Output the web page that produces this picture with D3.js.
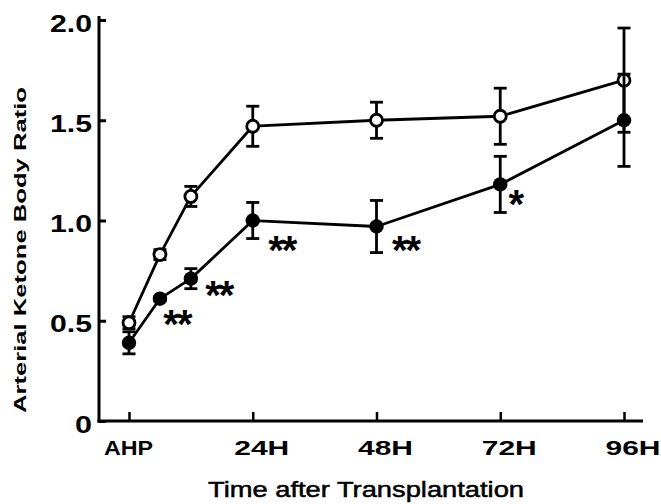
<!DOCTYPE html>
<html>
<head>
<meta charset="utf-8">
<script src="https://cdn.jsdelivr.net/npm/d3@7"></script>
<style>
  html, body { margin: 0; padding: 0; background: #fff; }
  svg { display: block; }
</style>
</head>
<body>
<svg id="chart" width="661" height="504"></svg>
<script>
// ---- data ----
const hours       = [0, 6, 12, 24, 48, 72, 96];
const openMean    = [0.49, 0.83, 1.12, 1.47, 1.50, 1.52, 1.70];
const openErr     = [0.03, 0.025, 0.05, 0.10, 0.09, 0.14, 0.26];
const filledMean  = [0.39, 0.61, 0.71, 1.00, 0.97, 1.18, 1.50];
const filledErr   = [0.055, 0.01, 0.05, 0.09, 0.13, 0.14, 0.23];
const significance = ["", "**", "**", "**", "**", "*", ""];
const xTickHours  = [0, 24, 48, 72, 96];
const xTickLabels = ["AHP", "24H", "48H", "72H", "96H"];
const yTickValues = [0, 0.5, 1.0, 1.5, 2.0];
const yTickLabels = ["0", "0.5", "1.0", "1.5", "2.0"];
const xTitle = "Time after Transplantation";
const yTitle = "Arterial Ketone Body Ratio";

// ---- drawing ----
const svg = d3.select("#chart");
const x = d3.scaleLinear().domain([0, 96]).range([129, 624]);
const y = d3.scaleLinear().domain([0, 2]).range([421, 20]);
const axisLeftX = 99;
const font = "'Liberation Sans', Arial, Helvetica, sans-serif";

// Y axis
const yAxis = d3.axisRight(y)
  .tickValues(yTickValues)
  .tickSize(7)
  .tickSizeOuter(0)
  .tickFormat((d, i) => yTickLabels[i]);
const gy = svg.append("g").attr("transform", `translate(${axisLeftX},0)`).call(yAxis);
gy.select(".domain").attr("d", `M0,${y(0) + 1.5}V${y(2) - 4}`)
  .attr("stroke", "#000").attr("stroke-width", 3).attr("fill", "none");
gy.selectAll(".tick line").attr("stroke", "#000").attr("stroke-width", 3);
gy.selectAll(".tick text")
  .attr("x", -7).attr("dy", null).attr("y", 11)
  .attr("text-anchor", "end")
  .attr("font-family", font).attr("font-weight", "bold").attr("font-size", 23)
  .attr("fill", "#000")
  .each(function(d, i) {
    const lbl = yTickLabels[i];
    if (lbl.length > 1) d3.select(this).attr("textLength", 42).attr("lengthAdjust", "spacingAndGlyphs");
    else d3.select(this).attr("textLength", 17).attr("lengthAdjust", "spacingAndGlyphs");
  });

// X axis
const xAxis = d3.axisTop(x)
  .tickValues(xTickHours)
  .tickSize(9)
  .tickSizeOuter(0)
  .tickFormat((d, i) => xTickLabels[i]);
const gx = svg.append("g").attr("transform", `translate(0,${y(0)})`).call(xAxis);
gx.select(".domain").attr("d", `M${axisLeftX - 1.5},0H643`)
  .attr("stroke", "#000").attr("stroke-width", 3).attr("fill", "none");
gx.selectAll(".tick line").attr("stroke", "#000").attr("stroke-width", 2.5);
gx.selectAll(".tick text")
  .attr("y", 34).attr("dy", null)
  .attr("font-family", font).attr("font-weight", "bold").attr("font-size", 21)
  .attr("fill", "#000")
  .each(function(d, i) {
    const lbl = xTickLabels[i];
    const t = d3.select(this);
    if (lbl === "AHP") {
      t.attr("text-anchor", "middle").attr("x", -1).attr("textLength", 49).attr("lengthAdjust", "spacingAndGlyphs");
    } else {
      t.attr("text-anchor", "start").attr("x", -19).attr("textLength", 55).attr("lengthAdjust", "spacingAndGlyphs");
    }
  });

// Axis titles
svg.append("text")
  .attr("x", 366).attr("y", 497)
  .attr("text-anchor", "middle")
  .attr("font-family", font).attr("font-size", 22)
  .attr("stroke", "#000").attr("stroke-width", 0.5)
  .attr("textLength", 316).attr("lengthAdjust", "spacingAndGlyphs")
  .text(xTitle);

svg.append("text")
  .attr("transform", "translate(26,250) rotate(-90)")
  .attr("text-anchor", "middle")
  .attr("font-family", font).attr("font-weight", "bold").attr("font-size", 17)
  .attr("textLength", 326).attr("lengthAdjust", "spacingAndGlyphs")
  .text(yTitle);

// Series
const openData = hours.map((h, i) => ({ h, m: openMean[i], e: openErr[i] }));
const filledData = hours.map((h, i) => ({ h, m: filledMean[i], e: filledErr[i], s: significance[i] }));

const line = d3.line().x(d => x(d.h)).y(d => y(d.m));
[openData, filledData].forEach(data => {
  svg.append("path").datum(data).attr("d", line)
    .attr("fill", "none").attr("stroke", "#000").attr("stroke-width", 2.8)
    .attr("stroke-linejoin", "round");
});

function errorBars(data) {
  const g = svg.append("g").attr("stroke", "#000").attr("stroke-width", 2.8).attr("fill", "none");
  data.forEach(d => {
    const cx = x(d.h), top = y(d.m + d.e), bot = y(d.m - d.e);
    g.append("line").attr("x1", cx).attr("x2", cx).attr("y1", top).attr("y2", bot);
    g.append("line").attr("x1", cx - 6.5).attr("x2", cx + 6.5).attr("y1", top).attr("y2", top);
    g.append("line").attr("x1", cx - 6.5).attr("x2", cx + 6.5).attr("y1", bot).attr("y2", bot);
  });
}

errorBars(openData);
svg.append("g").selectAll("circle").data(openData).join("circle")
  .attr("cx", d => x(d.h)).attr("cy", d => y(d.m)).attr("r", 6)
  .attr("fill", "#fff").attr("stroke", "#000").attr("stroke-width", 2.8);

errorBars(filledData);
svg.append("g").selectAll("circle").data(filledData).join("circle")
  .attr("cx", d => x(d.h)).attr("cy", d => y(d.m)).attr("r", 7.2)
  .attr("fill", "#000");

// Significance marks (offsets from the point, in px)
const markOffsets = { 6: [17, 21], 12: [28, 12], 24: [29, 25], 48: [29, 19], 72: [15, 16] };
svg.append("g").selectAll("text").data(filledData.filter(d => d.s)).join("text")
  .attr("x", d => x(d.h) + markOffsets[d.h][0])
  .attr("y", d => y(d.m) + markOffsets[d.h][1] + 18)
  .attr("text-anchor", "middle")
  .attr("font-family", font).attr("font-weight", "bold").attr("font-size", 40)
  .attr("letter-spacing", -2)
  .text(d => d.s);
</script>
</body>
</html>
